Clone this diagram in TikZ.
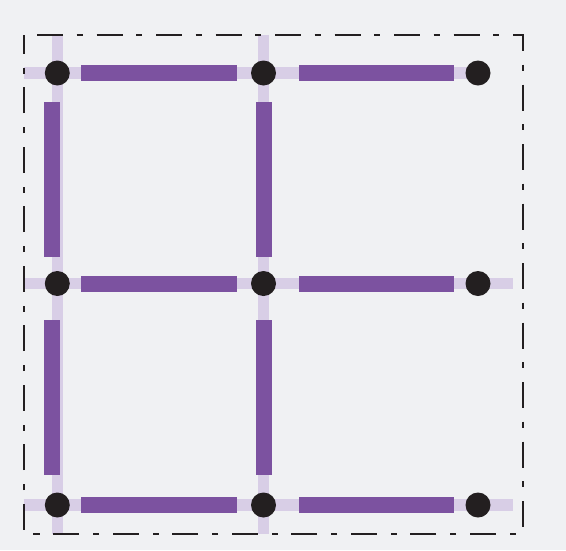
\documentclass[tikz,border=0pt]{standalone}
\usetikzlibrary{backgrounds}
\definecolor{paper}{RGB}{240,241,243}
\definecolor{gridLav}{RGB}{216,206,230}
\definecolor{barPurple}{RGB}{124,82,160}
\definecolor{dotBlack}{RGB}{35,31,32}

\begin{document}
\begin{tikzpicture}[x=1pt, y=-1pt,
    lavline/.style={gridLav, line width=11.5pt},
    bar/.style={barPurple, line width=16pt},
    vertex/.style={circle, fill=dotBlack, minimum size=25pt, inner sep=0pt},
    frame/.style={dotBlack, line width=2pt, dash pattern=on 26pt off 13.5pt on 6pt off 14pt, dash phase=46pt}]
    \useasboundingbox (0,0) rectangle (566,550);
    % frame corners and free ends
    \coordinate (f1) at (23.5,34.5);
    \coordinate (f2) at (522.5,533.5);
    \coordinate (g) at (513,0);
    % vertices
    \foreach \c/\x in {l/57.3, m/263.5, r/478}
      \foreach \r/\y in {t/73, c/283.5, b/505}
        \node[vertex] (\r\c) at (\x,\y) {};
    % light grid behind everything
    \begin{scope}[on background layer]
      \fill[paper] (0,0) rectangle (566,550);
      \draw[lavline] (f1 |- tl) -- (tr.center);
      \draw[lavline] (f1 |- cl) -- (g |- cr);
      \draw[lavline] (f1 |- bl) -- (g |- br);
      \draw[lavline] (tl |- f1) -- (tl |- f2);
      \draw[lavline] (tm |- f1) -- (tm |- f2);
    \end{scope}
    % horizontal bars
    \foreach \r in {t,c,b} {
      \draw[bar, shorten <=24pt, shorten >=26.5pt] (\r l.center) -- (\r m.center);
      \draw[bar, shorten <=35.5pt, shorten >=24pt] (\r m.center) -- (\r r.center);
    }
    % vertical bars
    \foreach \c/\dx in {l/-5.3, m/0.5} {
      \draw[bar, shorten <=29pt, shorten >=26.5pt] ([xshift=\dx pt]t\c.center) -- ([xshift=\dx pt]c\c.center);
      \draw[bar, shorten <=36.5pt, shorten >=30pt] ([xshift=\dx pt]c\c.center) -- ([xshift=\dx pt]b\c.center);
    }
    % dash-dot frame
    \draw[frame] (f1) -- (f1 -| f2) -- (f2) -- (f2 -| f1) -- cycle;
\end{tikzpicture}
\end{document}
